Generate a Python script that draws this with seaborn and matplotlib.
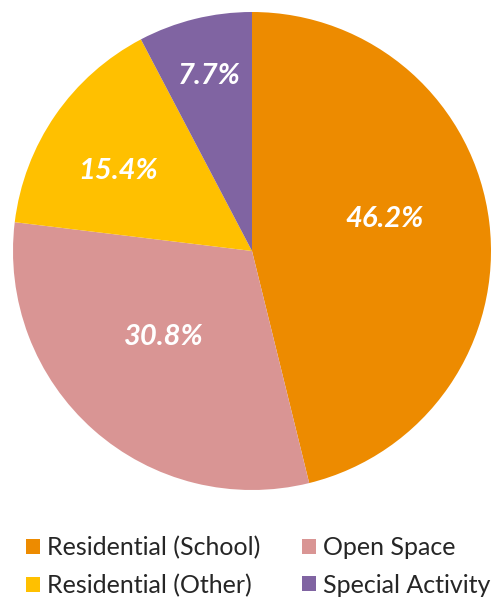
import matplotlib
matplotlib.use("Agg")
import matplotlib.pyplot as plt
import numpy as np
import seaborn as sns

categories = ["Residential (School)", "Open Space", "Residential (Other)", "Special Activity"]
shares = [46.2, 30.8, 15.4, 7.7]
colors = ["#ED8B00", "#D99594", "#FFC000", "#8064A2"]
# radial position of each percentage label (fraction of radius)
label_radius = [0.57, 0.52, 0.65, 0.75]
label_nudge_deg = [6, -4, 4, 0]

sns.set_theme(style="white")
plt.rcParams["font.family"] = ["Lato", "DejaVu Sans"]

W, H = 491, 599
fig = plt.figure(figsize=(W / 100, H / 100), dpi=100)
ax = fig.add_axes([13 / W, (H - 490) / H, 478 / W, 478 / H])

wedges, _ = ax.pie(shares, colors=sns.color_palette(colors), startangle=90,
                   counterclock=False, radius=1.0,
                   wedgeprops=dict(linewidth=0))
ax.set_xlim(-1, 1)
ax.set_ylim(-1, 1)
ax.set_aspect("equal")

for w, val, r, nd in zip(wedges, shares, label_radius, label_nudge_deg):
    mid = np.deg2rad((w.theta1 + w.theta2) / 2 + nd)
    ax.text(r * np.cos(mid), r * np.sin(mid) + 0.005, f"{val:.1f}%", color="white",
            fontsize=21, fontweight="bold", fontstyle="italic",
            ha="center", va="center")

order = [0, 2, 1, 3]
fig.legend([wedges[i] for i in order], [categories[i] for i in order],
           ncol=2, loc="lower left", bbox_to_anchor=(26 / W, 2 / H),
           frameon=False, fontsize=18, handlelength=0.55, handleheight=0.55,
           handletextpad=0.3, columnspacing=1.65, labelspacing=0.58,
           borderaxespad=0, borderpad=0)

fig.savefig("out.png", dpi=100)
